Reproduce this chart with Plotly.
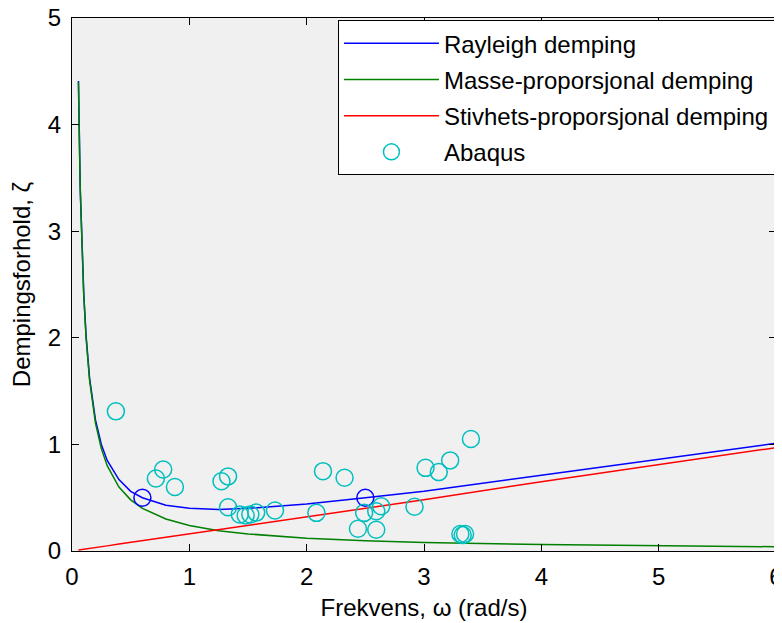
import plotly.graph_objects as go

# Frequency samples (rad/s) and damping ratios
omega = [0.055, 0.07, 0.1, 0.12, 0.15, 0.2, 0.25, 0.3, 0.4, 0.5, 0.6, 0.8, 1.0, 1.25,
         1.5, 2.0, 2.5, 3.0, 4.0, 5.0, 6.0]
rayleigh = [4.41, 3.41, 2.42, 2.02, 1.62, 1.23, 1.0, 0.85, 0.67, 0.56, 0.50, 0.43, 0.40,
            0.39, 0.40, 0.44, 0.50, 0.56, 0.71, 0.86, 1.01]
masse = [4.40, 3.40, 2.40, 2.00, 1.60, 1.20, 0.96, 0.80, 0.60, 0.48, 0.40, 0.30, 0.24,
         0.19, 0.16, 0.12, 0.096, 0.08, 0.06, 0.048, 0.04]
stivhet = [0.009, 0.011, 0.016, 0.019, 0.024, 0.032, 0.040, 0.048, 0.065, 0.081, 0.097,
           0.129, 0.16, 0.20, 0.24, 0.32, 0.40, 0.48, 0.65, 0.81, 0.97]

# Calibration points on the Rayleigh curve (blue circles)
calib_omega = [0.60, 2.50]
calib_zeta = [0.50, 0.50]

# Abaqus results
abaqus_omega = [0.374, 0.777, 0.715, 0.877, 1.33, 1.274, 1.33, 1.43, 1.48, 1.52, 1.57,
                1.73, 2.083, 2.139, 2.323, 2.49, 2.593, 2.635, 2.437, 2.593, 2.919,
                3.013, 3.126, 3.223, 3.40, 3.31, 3.33, 3.35]
abaqus_zeta = [1.31, 0.765, 0.68, 0.60, 0.70, 0.655, 0.41, 0.343, 0.333, 0.343, 0.36,
               0.38, 0.358, 0.749, 0.687, 0.358, 0.373, 0.42, 0.208, 0.20, 0.415,
               0.78, 0.74, 0.85, 1.05, 0.16, 0.15, 0.16]

FONT = "Liberation Sans, Arial, sans-serif"
FS = 24

fig = go.Figure()
fig.add_trace(go.Scatter(x=omega, y=rayleigh, mode="lines", name="Rayleigh demping",
                         line=dict(color="#0000FF", width=1.5), legendgroup="a"))
fig.add_trace(go.Scatter(x=omega, y=masse, mode="lines", name="Masse-proporsjonal demping",
                         line=dict(color="#008000", width=1.5), legendgroup="b"))
fig.add_trace(go.Scatter(x=omega, y=stivhet, mode="lines", name="Stivhets-proporsjonal demping",
                         line=dict(color="#FF0000", width=1.5), legendgroup="c"))
fig.add_trace(go.Scatter(x=calib_omega, y=calib_zeta, mode="markers", showlegend=False,
                         marker=dict(symbol="circle-open", size=17, color="#0000FF",
                                     line=dict(width=1.5))))
fig.add_trace(go.Scatter(x=abaqus_omega, y=abaqus_zeta, mode="markers", name="Abaqus",
                         marker=dict(symbol="circle-open", size=17, color="#00BFBF",
                                     line=dict(width=1.5)), legendgroup="d"))

axis_common = dict(showgrid=False, zeroline=False, showline=True, linecolor="black",
                   linewidth=1, mirror="ticks", ticks="inside", ticklen=7,
                   tickcolor="black", automargin=False, ticklabeloverflow="allow",
                   tickfont=dict(size=FS, color="black", family=FONT))

# page body has an 8px margin, so the figure is sized/margined to compensate
fig.update_layout(
    width=774, height=615,
    margin=dict(l=64, r=6, t=10, b=72),
    paper_bgcolor="white", plot_bgcolor="#F0F0F0",
    font=dict(family=FONT, size=FS, color="black"),
    xaxis=dict(range=[0, 6], tickvals=[0, 1, 2, 3, 4, 5, 6], ticklabelstandoff=4,
               title=dict(text="Frekvens, ω (rad/s)", font=dict(size=FS), standoff=10),
               **axis_common),
    yaxis=dict(range=[0, 5], tickvals=[0, 1, 2, 3, 4, 5], ticklabelstandoff=5,
               title=dict(text="Dempingsforhold, ζ", font=dict(size=FS), standoff=10),
               **axis_common),
    legend=dict(x=0.9985, xanchor="right", y=0.996, yanchor="top", bgcolor="white",
                bordercolor="black", borderwidth=1, font=dict(size=FS, family=FONT),
                itemwidth=95, tracegroupgap=2, traceorder="grouped"),
    showlegend=True,
)

fig.write_html("out.html")
